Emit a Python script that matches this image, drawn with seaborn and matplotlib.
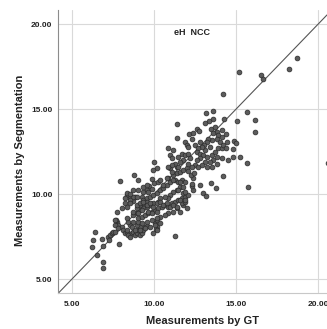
import matplotlib
matplotlib.use("Agg")
import matplotlib.pyplot as plt
import seaborn as sns
import numpy as np
import pandas as pd

# ---- data ----
gt_tail = [6.40, 6.26, 6.20, 6.81, 6.87, 6.51, 6.91, 6.87, 7.21, 7.32, 7.42, 7.52, 7.62, 7.28, 7.89,
           7.72, 7.82, 8.03, 8.13, 8.23, 8.34, 8.43, 8.54, 8.64, 8.74, 8.84, 8.94, 9.04, 9.15, 9.25,
           9.35, 9.45, 9.15, 8.94, 8.54, 8.43, 8.74, 9.04, 9.25, 9.55, 10.06, 10.20, 10.16, 10.12, 11.28]
seg_tail = [7.78, 7.29, 6.90, 7.34, 6.94, 6.41, 6.02, 5.63, 7.49, 7.60, 7.69, 7.78, 7.74, 7.29, 7.04,
            8.37, 8.18, 8.08, 7.88, 7.69, 7.78, 7.59, 7.49, 7.69, 7.78, 7.59, 7.72, 7.88, 7.59, 7.69,
            7.88, 8.08, 8.08, 8.18, 8.18, 8.37, 8.37, 8.37, 8.28, 8.12, 8.28, 8.08, 8.45, 7.95, 7.53]

gt_core = [9.86, 10.00, 9.72, 9.86, 9.55, 9.35, 8.33, 8.54, 8.23, 8.74, 8.84, 9.25, 9.35, 9.55, 9.76,
           9.96, 10.16, 10.37, 10.57, 10.77, 10.98, 10.87, 11.18, 11.38, 11.59, 11.79, 11.99, 11.38, 10.98, 11.08,
           11.28, 11.48, 11.69, 11.89, 11.59, 11.38, 11.18, 10.98, 10.87, 10.67, 10.37, 10.26, 9.96, 9.76, 9.55,
           9.35, 9.15, 8.94, 8.74, 9.04, 9.25, 9.45, 9.65, 9.86, 10.06, 10.26, 10.47, 10.67, 10.87, 11.08,
           11.28, 11.48, 11.69, 11.89, 12.09, 11.79, 11.99, 11.38, 11.18, 11.59, 10.87, 10.67, 10.37, 10.16, 9.86,
           9.55, 8.64, 8.33, 7.66, 7.62, 7.82, 8.84, 9.15, 9.45, 9.76, 10.06, 10.37, 10.16, 9.96]
seg_core = [10.88, 10.63, 10.49, 10.29, 10.24, 10.14, 9.94, 9.75, 9.75, 9.59, 9.84, 9.84, 9.65, 9.75, 9.84,
            9.94, 10.04, 10.24, 10.33, 10.53, 10.73, 10.92, 11.12, 11.22, 11.31, 11.41, 11.51, 11.61, 11.51, 11.31,
            10.82, 10.73, 10.82, 10.73, 10.43, 10.24, 10.14, 9.94, 9.75, 9.84, 9.75, 9.55, 9.45, 9.35, 9.26,
            9.16, 9.06, 8.86, 8.76, 8.57, 8.67, 8.76, 8.86, 8.96, 9.06, 9.16, 9.26, 9.35, 9.26, 9.45,
            9.55, 9.65, 9.75, 9.84, 9.94, 9.35, 9.16, 9.16, 8.96, 8.96, 8.86, 8.76, 8.67, 8.57, 8.47,
            8.37, 8.08, 7.88, 8.50, 8.18, 7.98, 7.88, 7.88, 7.98, 8.08, 8.18, 8.27, 7.88, 7.69]

gt_mid = [8.34, 8.74, 8.54, 8.23, 8.03, 7.72, 7.62, 8.34, 8.74, 8.94, 9.15, 9.35, 9.55,
          8.33, 8.54, 8.94, 9.15, 9.35, 9.55, 9.76, 9.96, 10.16, 10.37, 10.57, 10.77, 10.98, 11.18, 11.38,
          11.69, 11.89, 9.04, 9.25, 9.65, 9.86, 10.16,
          7.93, 8.80, 9.04, 10.02, 10.16, 9.96, 8.54, 8.74, 9.04, 8.94,
          9.35, 9.55, 9.65, 10.26, 10.37, 10.57, 10.77, 11.18, 11.59, 11.75, 11.48, 11.79, 11.59,
          12.40, 12.40, 12.80, 12.05, 12.25, 12.45, 12.30, 12.30, 11.90, 11.90]
seg_mid = [10.04, 9.84, 9.65, 9.45, 9.16, 8.96, 8.47, 8.57, 8.96, 9.16, 9.35, 9.45, 9.55,
           9.26, 9.45, 9.35, 9.45, 9.55, 9.35, 9.49, 9.26, 9.45, 9.55, 9.35, 9.45, 9.26, 9.35, 9.22,
           9.45, 9.55, 8.86, 9.06, 8.96, 8.86, 8.96,
           10.76, 11.12, 10.82, 11.90, 11.51, 11.41, 10.02, 10.24, 10.27, 9.84,
           10.43, 10.53, 10.14, 10.73, 10.82, 10.53, 10.92, 10.82, 10.73, 10.43, 10.24, 10.04, 9.65,
           10.92, 10.24, 10.53, 11.35, 11.15, 11.25, 10.45, 10.60, 10.10, 9.65]

gt_upper = [13.62, 13.17, 13.62, 13.35, 13.11, 11.42, 11.42, 12.64, 12.74, 12.15, 12.30, 12.40,
            13.48, 13.72, 13.82, 13.62, 13.92, 13.82, 13.52, 14.02, 14.13, 13.31, 13.21, 13.07, 13.41,
            13.11, 12.91, 11.89, 11.99, 12.09, 12.50, 12.70, 12.80, 12.60, 12.80, 13.01, 13.21, 13.52,
            13.72, 13.92, 13.82, 13.62, 13.41, 13.11, 12.80, 12.60, 12.50, 12.70, 12.91, 13.21, 13.52,
            13.82, 14.13, 14.17, 10.87, 10.98, 11.12, 11.48, 11.69, 11.89, 12.09, 11.79, 11.59, 11.28,
            11.08, 10.87, 11.48, 12.09, 12.19, 12.30, 14.27, 14.39, 14.43, 14.23, 14.39, 14.12, 11.18]
seg_upper = [14.88, 14.75, 14.41, 14.29, 14.16, 14.10, 13.33, 13.86, 13.73, 13.51, 13.27, 13.57,
             13.86, 13.96, 13.67, 13.57, 13.47, 13.27, 13.18, 13.08, 13.76, 13.27, 13.08, 12.88, 12.78,
             12.59, 12.78, 13.08, 12.92, 12.78, 12.88, 12.69, 13.08, 12.49, 12.39, 12.29, 12.20, 12.29,
             12.49, 12.69, 12.20, 12.00, 11.90, 11.90, 12.10, 12.00, 11.71, 11.61, 11.71, 11.61, 11.61,
             11.80, 12.10, 12.69, 12.73, 12.33, 12.10, 12.20, 12.39, 12.29, 12.39, 12.00, 11.90, 11.80,
             11.71, 11.61, 11.61, 11.80, 12.10, 11.61, 14.45, 13.53, 13.08, 12.88, 12.69, 13.37, 12.59]

gt_right = [15.69, 16.16, 16.16, 15.04, 14.88, 15.00, 14.84, 14.84, 15.24, 14.49, 15.65, 14.19,
            15.75, 13.49, 13.78, 13.01, 13.15,
            14.19, 15.20, 16.54, 16.63, 18.23, 18.72, 20.62]
seg_right = [14.84, 14.35, 13.63, 14.29, 13.14, 13.02, 12.63, 12.20, 12.20, 12.00, 11.84, 11.06,
             10.39, 10.66, 10.33, 10.04, 9.90,
             15.92, 17.19, 17.00, 16.75, 17.34, 18.04, 11.84]

x_ticks = [5, 10, 15, 20]
y_ticks = [5, 10, 15, 20]
x_label = "Measurements by GT"
y_label = "Measurements by Segmentation"
title = "eH  NCC"

df = pd.DataFrame({
    "gt": gt_tail + gt_core + gt_mid + gt_upper + gt_right,
    "seg": seg_tail + seg_core + seg_mid + seg_upper + seg_right,
})

sns.set_style("white")
plt.rcParams["font.family"] = ["Liberation Sans", "DejaVu Sans"]

fig = plt.figure(figsize=(3.27, 3.29), dpi=100)
ax = fig.add_axes([58 / 327, 1 - 292.7 / 329, 1 - 58 / 327, (292.7 - 10) / 329])

ax.set_xlim(4.146, 20.55)
ax.set_ylim(4.194, 20.84)
ax.set_xticks(x_ticks)
ax.set_yticks(y_ticks)
ax.set_xticklabels([f"{v:.2f}" for v in x_ticks], fontsize=6, fontweight="bold", color="#222222")
ax.set_yticklabels([f"{v:.2f}" for v in y_ticks], fontsize=6, fontweight="bold", color="#222222")
ax.tick_params(axis="both", length=0, pad=4)
ax.tick_params(axis="x", pad=6)

ax.grid(True, color="#d9d9d9", linewidth=0.8)
ax.set_axisbelow(True)
for s in ["top", "right"]:
    ax.spines[s].set_visible(False)
ax.spines["left"].set_color("#8c8c8c")
ax.spines["bottom"].set_color("#c8c8c8")
ax.spines["left"].set_linewidth(0.8)
ax.spines["bottom"].set_linewidth(0.8)

ax.axline((5, 5), slope=1, color="#555555", linewidth=0.8, zorder=2)

sns.scatterplot(data=df, x="gt", y="seg", ax=ax, s=12, color="#5c5c5c",
                edgecolor="#2a2a2a", linewidth=0.5, zorder=3, legend=False)

ax.set_xlabel(x_label, fontsize=8, fontweight="bold", color="#222222")
ax.set_ylabel(y_label, fontsize=8, fontweight="bold", color="#222222")
ax.xaxis.set_label_coords((202 - 58) / (327 - 58), -23 / 282.7)
ax.yaxis.set_label_coords(-33 / 269, 0.47)

ax.text(12.30, 19.49, title, fontsize=6.5, fontweight="bold", color="#222222",
        ha="center", va="center")

fig.savefig("out.png", dpi=100)
